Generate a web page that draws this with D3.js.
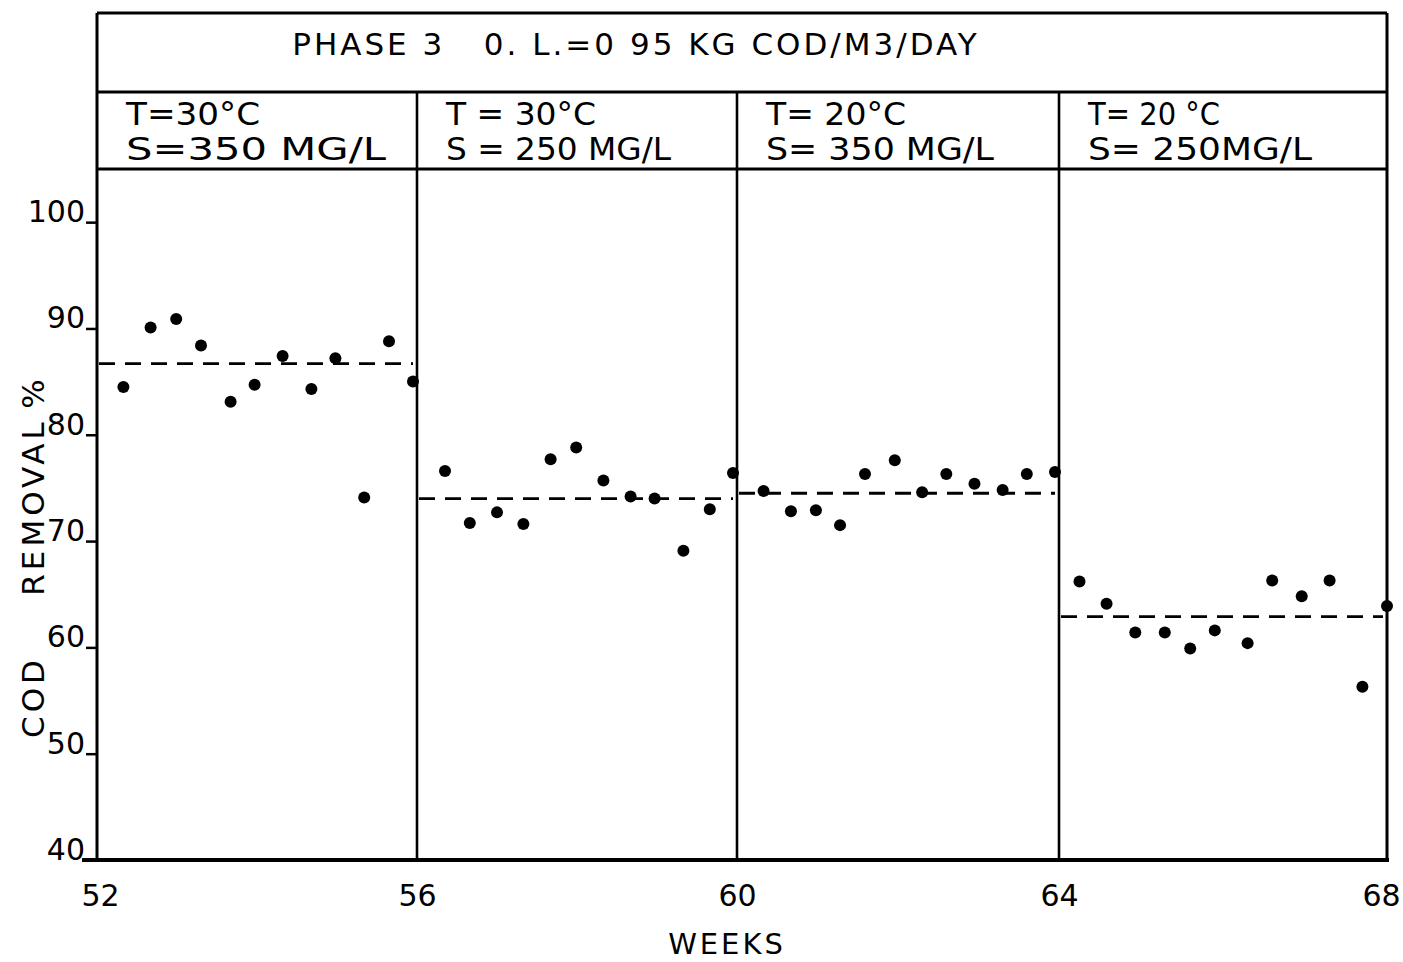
<!DOCTYPE html>
<html>
<head>
<meta charset="utf-8">
<script src="https://cdn.jsdelivr.net/npm/d3@7"></script>
<style>
  html, body { margin: 0; padding: 0; background: #fff; }
  svg text { font-family: "DejaVu Sans", "Liberation Sans", sans-serif; fill: #000; }
</style>
</head>
<body>
<svg id="chart" width="1403" height="962"></svg>
<script>
// COD removal during phase 3, sampled roughly three times a week
const weeks = [
  52.33, 52.67, 52.99, 53.30, 53.67, 53.97, 54.32, 54.68, 54.98, 55.34, 55.65, 55.95,
  56.35, 56.66, 57.00, 57.33, 57.67, 57.99, 58.33, 58.67, 58.97, 59.33, 59.66, 59.95,
  60.33, 60.67, 60.98, 61.28, 61.59, 61.96, 62.30, 62.60, 62.95, 63.30, 63.60, 63.95,
  64.25, 64.58, 64.93, 65.29, 65.60, 65.90, 66.30, 66.60, 66.96, 67.30, 67.70, 68.00
];
const removal = [
  84.5, 90.1, 90.9, 88.4, 83.1, 84.7, 87.4, 84.3, 87.2, 74.1, 88.8, 85.0,
  76.6, 71.7, 72.7, 71.6, 77.7, 78.8, 75.7, 74.2, 74.0, 69.1, 73.0, 76.4,
  74.7, 72.8, 72.9, 71.5, 76.3, 77.6, 74.6, 76.3, 75.4, 74.8, 76.3, 76.5,
  66.2, 64.1, 61.4, 61.4, 59.9, 61.6, 60.4, 66.3, 64.8, 66.3, 56.3, 63.9
];

// Operating periods
const periodStart = [52, 56, 60, 64];
const periodEnd = [56, 60, 64, 68];
const periodMean = [86.7, 74.0, 74.5, 62.9];
const periodTemp = ["T=30°C", "T = 30°C", "T= 20°C", "T= 20 °C"];
const periodFeed = ["S=350 MG/L", "S = 250 MG/L", "S= 350 MG/L", "S= 250MG/L"];

const xTicks = [52, 56, 60, 64, 68];
const yTicks = [40, 50, 60, 70, 80, 90, 100];

const titleText = "PHASE 3   0. L.=0 95 KG COD/M3/DAY";
const xTitle = "WEEKS";
const yTitleParts = ["COD", "REMOVAL", "%"];

const svg = d3.select("#chart");

const left = 97, right = 1387, bottom = 860;
const headTop = 13, headMid = 92;

// hand-ruled week grid: the four periods are not quite equal on paper
const x = d3.scaleLinear().domain([52, 56, 60, 64, 68]).range([left, 417, 737, 1059, right]);
const y = d3.scaleLinear().domain([40, 105]).range([bottom, 169]);
const plotTop = y(105);

// Header boxes
const head = svg.append("g").attr("fill", "none").attr("stroke", "#000");
head.append("line").attr("x1", left).attr("x2", right).attr("y1", headTop).attr("y2", headTop).attr("stroke-width", 3);
head.append("line").attr("x1", left).attr("x2", right).attr("y1", headMid).attr("y2", headMid).attr("stroke-width", 3);
head.append("line").attr("x1", left).attr("x2", right).attr("y1", plotTop).attr("y2", plotTop).attr("stroke-width", 3);
head.append("line").attr("x1", left).attr("x2", left).attr("y1", headTop).attr("y2", bottom).attr("stroke-width", 3);
head.append("line").attr("x1", right).attr("x2", right).attr("y1", headTop).attr("y2", bottom).attr("stroke-width", 3);

// Period separators
svg.append("g").selectAll("line")
  .data(periodStart.slice(1))
  .join("line")
  .attr("x1", d => x(d)).attr("x2", d => x(d))
  .attr("y1", headMid).attr("y2", bottom)
  .attr("stroke", "#000").attr("stroke-width", 2.6);

svg.append("text")
  .attr("x", 636).attr("y", 55)
  .attr("text-anchor", "middle")
  .attr("font-size", 31)
  .attr("letter-spacing", 3)
  .style("white-space", "pre")
  .text(titleText);

// Period condition labels, stretched to the lettered widths
const tempWidth = [134, 150, 140, 132];
const feedWidth = [260, 225, 228, 224];
const labels = svg.append("g");
periodStart.forEach((s, i) => {
  labels.append("text").attr("x", x(s) + 29).attr("y", 125)
    .attr("font-size", 32).style("white-space", "pre")
    .attr("textLength", tempWidth[i]).attr("lengthAdjust", "spacingAndGlyphs")
    .text(periodTemp[i]);
  labels.append("text").attr("x", x(s) + 29).attr("y", 160)
    .attr("font-size", 32).style("white-space", "pre")
    .attr("textLength", feedWidth[i]).attr("lengthAdjust", "spacingAndGlyphs")
    .text(periodFeed[i]);
});

// Axes
const xAxis = svg.append("g")
  .attr("transform", `translate(0,${bottom})`)
  .call(d3.axisBottom(x).tickValues(xTicks).tickSize(0).tickPadding(25).tickFormat(d3.format("d")));
xAxis.select(".domain").attr("stroke", "#000").attr("stroke-width", 4)
  .attr("d", `M${left - 15},0H${right + 2}`);
xAxis.selectAll("text").attr("font-size", 30).attr("font-family", "DejaVu Sans")
  .attr("dx", (d, i) => (i === 0 ? 3 : d === 68 ? -6 : 0));

const yAxis = svg.append("g")
  .attr("transform", `translate(${left},0)`)
  .call(d3.axisLeft(y).tickValues(yTicks).tickSize(11).tickPadding(1).tickFormat(d3.format("d")));
yAxis.select(".domain").remove();
yAxis.selectAll(".tick line").attr("stroke", "#000").attr("stroke-width", 2.5);
yAxis.selectAll("text").attr("font-size", 30).attr("dy", "-0.02em").attr("font-family", "DejaVu Sans");

svg.append("text")
  .attr("x", 727).attr("y", 954)
  .attr("text-anchor", "middle")
  .attr("font-size", 29).attr("letter-spacing", 3)
  .text(xTitle);

// Vertical axis title, lettered in three spaced words
const yTitleCenter = [697, 507, 392];
svg.append("g").selectAll("text")
  .data(yTitleParts)
  .join("text")
  .attr("transform", (d, i) => `translate(44,${yTitleCenter[i]}) rotate(-90)`)
  .attr("text-anchor", "middle")
  .attr("font-size", 31).attr("letter-spacing", 4)
  .text(d => d);

// Mean level for each period
svg.append("g").selectAll("line")
  .data(periodMean)
  .join("line")
  .attr("x1", (d, i) => x(periodStart[i]) + 2)
  .attr("x2", (d, i) => x(periodEnd[i]) - 4)
  .attr("y1", d => y(d)).attr("y2", d => y(d))
  .attr("stroke", "#000").attr("stroke-width", 2.8)
  .attr("stroke-dasharray", "16,10");

// Observations
svg.append("g").selectAll("circle")
  .data(weeks)
  .join("circle")
  .attr("cx", d => x(d))
  .attr("cy", (d, i) => y(removal[i]))
  .attr("r", 6)
  .attr("fill", "#000");
</script>
</body>
</html>
